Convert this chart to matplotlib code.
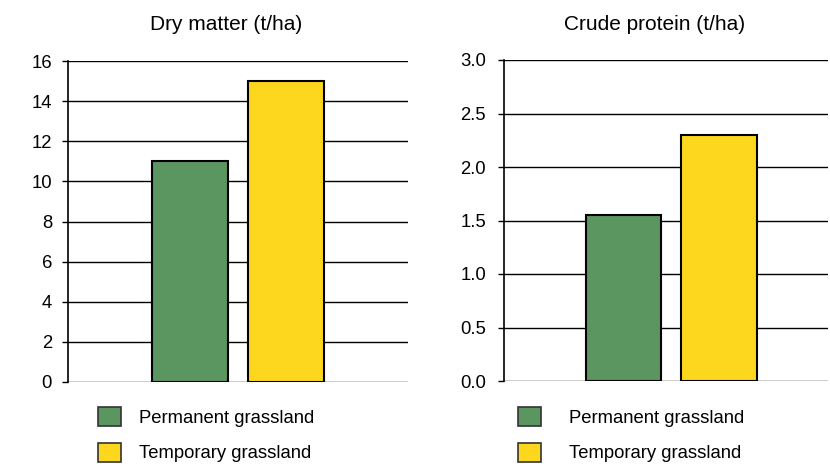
import numpy as np
import matplotlib.pyplot as plt
from matplotlib.patches import Patch

plt.rcParams['font.family'] = ['Liberation Sans', 'DejaVu Sans']

categories = ['Permanent grassland', 'Temporary grassland']
dry_matter = [11, 15]
crude_protein = [1.55, 2.3]
colors = ['#5b9560', '#fdd71e']

W, H = 830, 470
fig = plt.figure(figsize=(W / 100, H / 100), dpi=100)

def panel(x0, x1, y0, y1, vals, ymax, step, fmt, xl, title, title_x, pad):
    ax = fig.add_axes([x0 / W, 1 - y1 / H, (x1 - x0) / W, (y1 - y0) / H])
    x = np.arange(len(vals))
    ax.bar(x, vals, width=0.79, color=colors, edgecolor='black', linewidth=1.5, zorder=3)
    ax.set_xlim(*xl)
    ax.set_ylim(0, ymax)
    ticks = np.arange(0, ymax + step / 2, step)
    ax.set_yticks(ticks)
    ax.set_yticklabels([fmt.format(t) for t in ticks])
    ax.yaxis.grid(True, color='black', linewidth=1.0, zorder=0)
    ax.set_axisbelow(True)
    for s in ['top', 'right', 'bottom']:
        ax.spines[s].set_visible(False)
    ax.spines['left'].set_linewidth(1.2)
    ax.set_xticks([])
    ax.tick_params(axis='y', length=4.3, width=1.0, labelsize=13.3, pad=pad)
    fig.text(title_x / W, 1 - 25 / H, title, fontsize=15, ha='center', va='center')
    handles = [Patch(facecolor=c, edgecolor='#333333', linewidth=1.2) for c in colors]
    return ax, handles

ax1, h = panel(68, 408, 61, 382, dry_matter, 16, 2, '{:.0f}', (-1.27, 2.27),
               'Dry matter (t/ha)', 226, 7.2)
ax2, h = panel(504, 828, 60, 381, crude_protein, 3.0, 0.5, '{:.1f}', (-1.25, 2.14),
               'Crude protein (t/ha)', 655, 8.5)

for lx, tp in [(98, 1.0), (518, 1.5)]:
    fig.legend(h, categories, loc='upper left', bbox_to_anchor=(lx / W, 1 - 407 / H),
               frameon=False, fontsize=13.3, handlelength=1.24, handleheight=1.19,
               handletextpad=tp, labelspacing=0.87, borderpad=0, borderaxespad=0)

fig.savefig('out.png', dpi=100, facecolor='white')
